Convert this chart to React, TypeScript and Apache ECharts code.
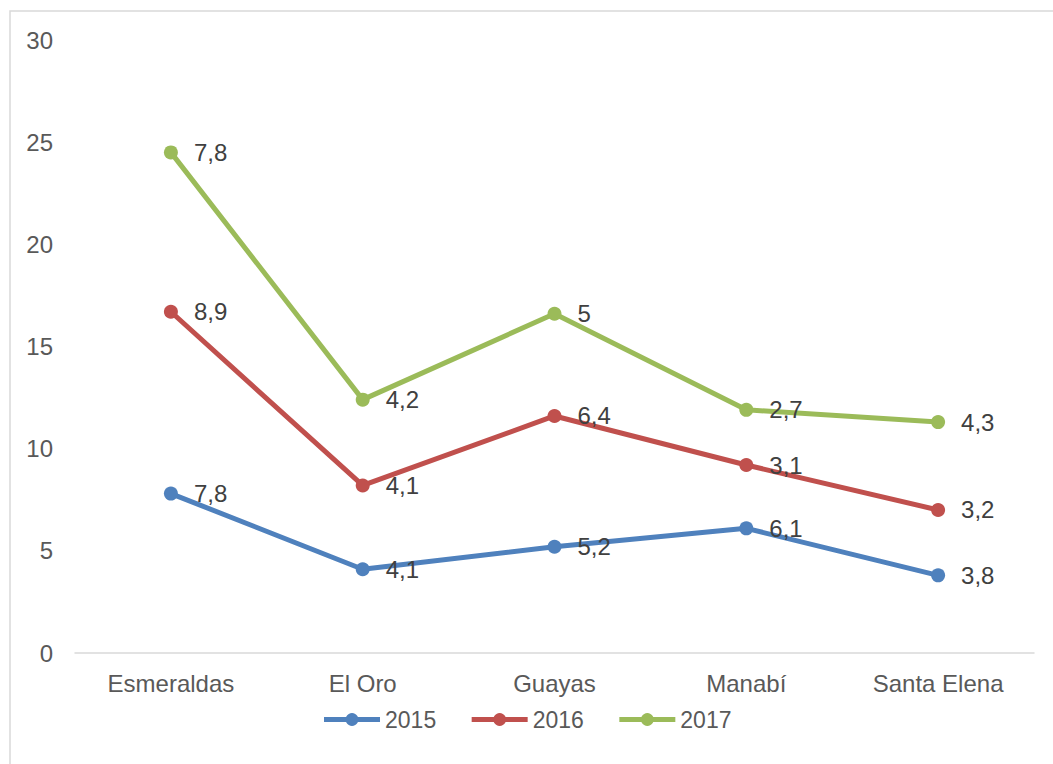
import React, { useEffect, useRef } from "react";
import * as echarts from "echarts";

const categories = ["Esmeraldas", "El Oro", "Guayas", "Manabí", "Santa Elena"];
const seriesNames = ["2015", "2016", "2017"];
const values2015 = [7.8, 4.1, 5.2, 6.1, 3.8];
const values2016 = [8.9, 4.1, 6.4, 3.1, 3.2];
const values2017 = [7.8, 4.2, 5, 2.7, 4.3];
const colors = ["#4f81bd", "#c0504d", "#9bbb59"];
const yTicks = [0, 5, 10, 15, 20, 25, 30];

const FONT = "'Liberation Sans', Arial, sans-serif";
const FS = 24;

export default function App() {
  const ref = useRef<HTMLDivElement>(null);
  useEffect(() => {
    if (!ref.current) return;
    const chart = echarts.init(ref.current, null, { renderer: "svg" });
    const all = [values2015, values2016, values2017];
    chart.setOption({
      animation: false,
      backgroundColor: "#ffffff",
      textStyle: { fontFamily: FONT },
      graphic: [
        {
          type: "rect",
          shape: { x: 10, y: 11, width: 1100, height: 800 },
          style: { fill: "none", stroke: "#d9d9d9", lineWidth: 1.5 },
          silent: true,
        },
      ],
      grid: { left: 75, right: 19, top: 40, bottom: 111, containLabel: false },
      legend: {
        data: seriesNames,
        bottom: 28,
        left: "center",
        itemWidth: 56,
        itemHeight: 16,
        itemGap: 33,
        lineStyle: { width: 5 },
        textStyle: { fontSize: 23, color: "#595959", fontFamily: FONT },
      },
      xAxis: {
        type: "category",
        data: categories,
        boundaryGap: true,
        axisLine: { lineStyle: { color: "#d9d9d9", width: 1.5 } },
        axisTick: { show: false },
        axisLabel: { fontSize: FS, color: "#595959", margin: 18, fontFamily: FONT },
      },
      yAxis: {
        type: "value",
        min: yTicks[0],
        max: yTicks[yTicks.length - 1],
        interval: 5,
        splitLine: { show: false },
        axisLine: { show: false },
        axisTick: { show: false },
        axisLabel: { fontSize: FS, color: "#595959", margin: 22, fontFamily: FONT },
      },
      series: seriesNames.map((name, i) => ({
        name,
        type: "line",
        stack: "total",
        data: all[i],
        color: colors[i],
        symbol: "circle",
        symbolSize: 14,
        lineStyle: { width: 5, color: colors[i] },
        itemStyle: { color: colors[i] },
        label: {
          show: true,
          position: "right",
          distance: 16,
          fontSize: FS,
          color: "#404040",
          fontFamily: FONT,
          formatter: (p: any) => String(p.value).replace(".", ","),
        },
      })),
    });
    return () => chart.dispose();
  }, []);
  return (
    <div
      ref={ref}
      style={{ position: "absolute", left: 0, top: 0, width: 1053, height: 764 }}
    />
  );
}
